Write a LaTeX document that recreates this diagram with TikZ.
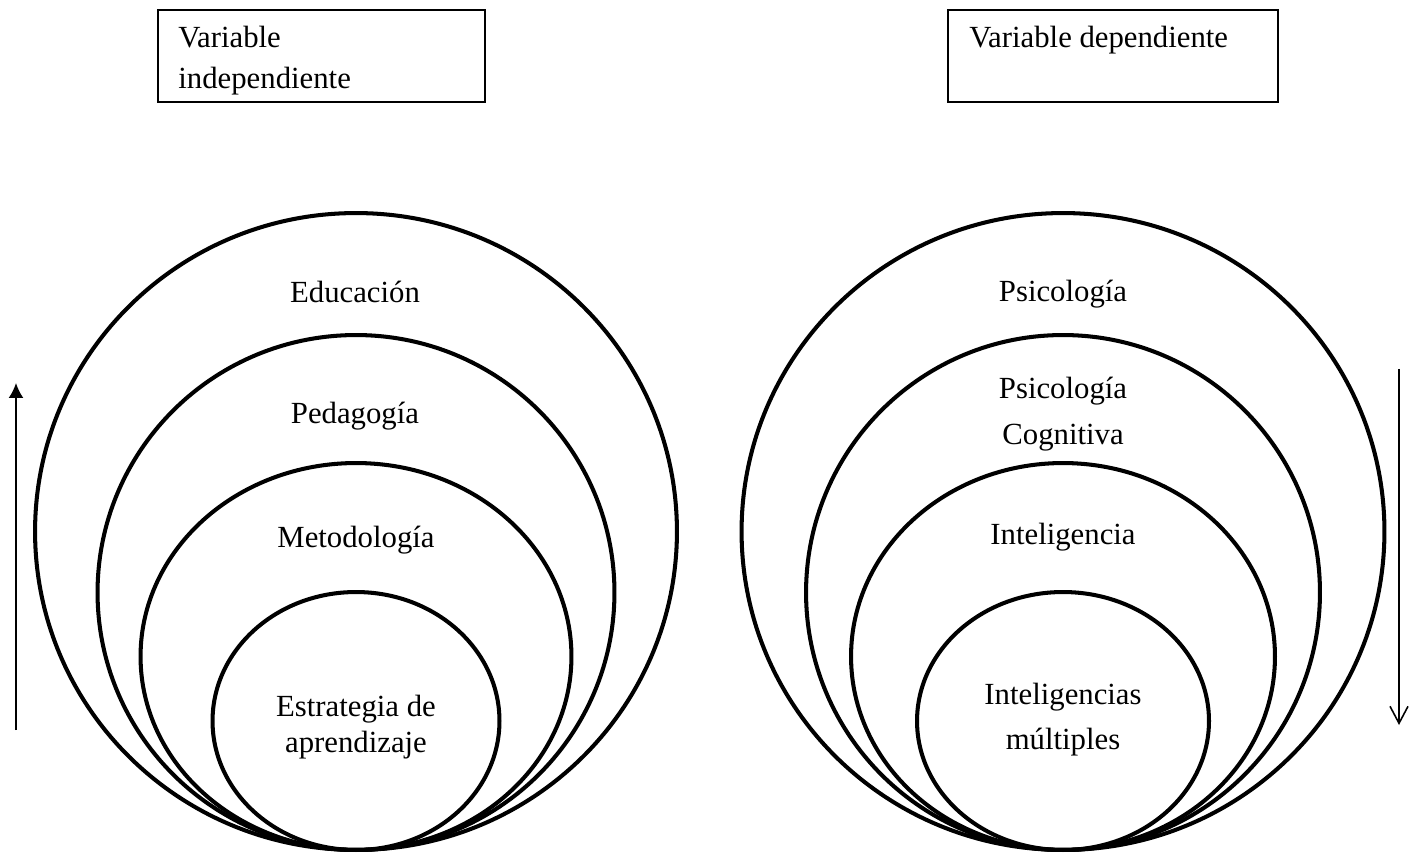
\documentclass[tikz,border=0pt]{standalone}
\usepackage{fontspec}
\setmainfont{Liberation Serif}
\usepackage{tikz}
\usetikzlibrary{positioning}
\usetikzlibrary{arrows,arrows.meta}
\usetikzlibrary{shapes,shapes.geometric}
\tikzstyle{ring} = [draw, ellipse, line width=2.3pt, inner sep=0pt]
\tikzstyle{varbox} = [draw, rectangle, line width=1.1pt, minimum height=1.84cm, inner sep=0pt]
\tikzstyle{lbl} = [font=\fontsize{17.5}{21}\selectfont, inner sep=0pt, align=center]
\tikzstyle{boxtext} = [font=\fontsize{17.5}{23.3}\selectfont, inner sep=0pt, align=left]
\tikzstyle{coord} = [coordinate]

\begin{document}
\begin{tikzpicture}[x=0.02cm, y=-0.02cm]
	\useasboundingbox (0,0) rectangle (1422,854);
	% cajas de variables
	\node [varbox, minimum width=6.54cm] (vind) at (321.5,56) {};
	\node [varbox, minimum width=6.6cm] (vdep) at (1113,56) {};
	\node [boxtext, below right=0.34cm and 0.42cm of vind.north west]
		(vindtxt) {Variable\\independiente};
	\node [boxtext, below right=0.34cm and 0.44cm of vdep.north west]
		(vdeptxt) {Variable dependiente};

	% variable independiente
	\node [ring, minimum width=12.84cm, minimum height=12.74cm] (edu) at (356,531.5) {};
	\node [ring, minimum width=10.34cm, minimum height=10.30cm] (ped) at (356,592.5) {};
	\node [ring, minimum width=8.62cm, minimum height=7.74cm] (met) at (356,656.5) {};
	\node [ring, minimum width=5.74cm, minimum height=5.16cm] (est) at (356,721) {};
	\node [lbl, anchor=base] (edutxt) at (355,303) {Educación};
	\node [lbl, anchor=base] (pedtxt) at (355,423) {Pedagogía};
	\node [lbl, anchor=base] (mettxt) at (356,547) {Metodología};
	\node [lbl, font=\fontsize{17.5}{20.5}\selectfont] (esttxt) at (356,727)
		{Estrategia de\\aprendizaje};

	% variable dependiente
	\node [ring, minimum width=12.86cm, minimum height=12.74cm] (psi) at (1063,531.5) {};
	\node [ring, minimum width=10.28cm, minimum height=10.30cm] (pcog) at (1063,592.5) {};
	\node [ring, minimum width=8.48cm, minimum height=7.74cm] (intel) at (1063,656.5) {};
	\node [ring, minimum width=5.84cm, minimum height=5.16cm] (imult) at (1063,721) {};
	\node [lbl, anchor=base] (psitxt) at (1063,302) {Psicología};
	\node [lbl, font=\fontsize{17.5}{26.2}\selectfont] (pcogtxt) at (1063,414)
		{Psicología\\Cognitiva};
	\node [lbl, anchor=base] (inteltxt) at (1063,544) {Inteligencia};
	\node [lbl, font=\fontsize{17.5}{25.6}\selectfont] (imulttxt) at (1063,720)
		{Inteligencias\\múltiples};

	% flechas
	\node [coord] (upS) at (16,730) {};
	\node [coord] (upE) at (16,383) {};
	\node [coord] (dnS) at (1399,369) {};
	\node [coord] (dnE) at (1399,725) {};
	\draw [-{Latex[length=0.3cm, width=0.3cm]}, line width=1.1pt] (upS) -- (upE);
	\draw [-{Straight Barb[length=0.34cm, width=0.36cm]}, line width=0.9pt] (dnS) -- (dnE);
\end{tikzpicture}
\end{document}
